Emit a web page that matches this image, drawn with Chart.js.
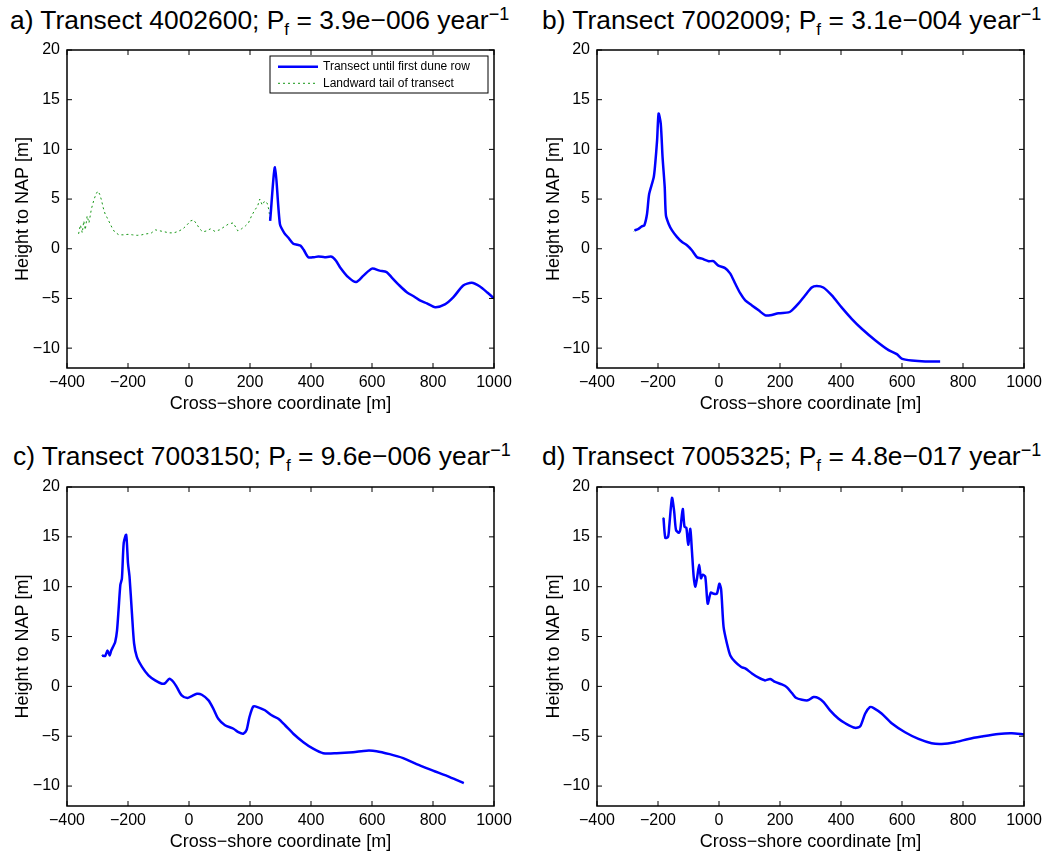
<!DOCTYPE html>
<html>
<head>
<meta charset="utf-8">
<script src="https://cdn.jsdelivr.net/npm/chart.js@4.4.1/dist/chart.umd.min.js"></script>
<style>
  body { margin: 0; background: #fff; width: 1051px; height: 858px; position: relative; overflow: hidden;
         font-family: "Liberation Sans", Arial, sans-serif; }
  .ttl { position: absolute; font-size: 26.4px; line-height: 26px; white-space: nowrap; color: #000; }
  .ttl .sub { font-size: 17px; position: relative; top: 6px; }
  .ttl .sup { font-size: 18px; position: relative; top: -9px; }
  canvas { position: absolute; }
</style>
</head>
<body>
<div class="ttl" style="left:10px;top:7px">a) Transect 4002600; P<span class="sub">f</span> = 3.9e−006 year<span class="sup">−1</span></div>
<div class="ttl" style="left:542px;top:7px">b) Transect 7002009; P<span class="sub">f</span> = 3.1e−004 year<span class="sup">−1</span></div>
<div class="ttl" style="left:13px;top:443px">c) Transect 7003150; P<span class="sub">f</span> = 9.6e−006 year<span class="sup">−1</span></div>
<div class="ttl" style="left:542px;top:443px">d) Transect 7005325; P<span class="sub">f</span> = 4.8e−017 year<span class="sup">−1</span></div>

<canvas id="chartA" width="525" height="386" style="left:0;top:30px"></canvas>
<canvas id="chartB" width="520" height="386" style="left:531px;top:30px"></canvas>
<canvas id="chartC" width="525" height="387" style="left:0;top:467px"></canvas>
<canvas id="chartD" width="520" height="387" style="left:531px;top:467px"></canvas>

<script>
const xTickValues = [-400, -200, 0, 200, 400, 600, 800, 1000];
const yTickValues = [-10, -5, 0, 5, 10, 15, 20];

// a) 4002600
const aDuneX = [266, 282, 298, 312, 326, 342, 356, 366, 376, 391, 410, 424, 445, 468, 482, 495, 522, 548, 572, 600, 625, 648, 665, 690, 714, 740, 757, 780, 807, 839, 867, 899, 927, 954, 978, 1000];
const aDuneY = [2.8, 8.2, 2.5, 1.6, 1.1, 0.5, 0.4, 0.3, -0.1, -0.85, -0.85, -0.78, -0.85, -0.8, -1.2, -1.85, -2.86, -3.35, -2.7, -2.0, -2.2, -2.35, -2.9, -3.7, -4.37, -4.85, -5.2, -5.5, -5.88, -5.6, -4.87, -3.7, -3.42, -3.8, -4.4, -5.0];
const aTailX = [-362, -356, -350, -345, -340, -334, -328, -320, -312, -305, -299, -293, -287, -281, -275, -268, -260, -252, -244, -230, -215, -200, -185, -170, -155, -140, -125, -110, -95, -80, -65, -50, -35, -20, -8, 5, 15, 25, 35, 45, 58, 70, 85, 100, 115, 130, 145, 160, 172, 185, 195, 205, 215, 225, 232, 240, 248, 256, 262, 266];
const aTailY = [1.5, 2.4, 1.6, 2.8, 1.9, 3.3, 2.6, 4.0, 4.9, 5.5, 5.8, 5.5, 4.9, 4.1, 3.5, 3.1, 2.6, 2.1, 1.7, 1.4, 1.4, 1.45, 1.4, 1.35, 1.4, 1.5, 1.55, 1.9, 1.8, 1.7, 1.6, 1.6, 1.75, 2.0, 2.35, 2.8, 2.9, 2.5, 2.0, 1.7, 1.8, 2.0, 1.75, 1.9, 2.2, 2.5, 2.6, 1.8, 2.0, 2.3, 2.6, 3.3, 3.85, 4.3, 5.0, 4.4, 4.8, 4.6, 3.9, 2.8];

// b) 7002009
const bDuneX = [-277, -264, -253, -245, -236, -229, -214, -209, -203, -198, -191, -185, -178, -174, -165, -154, -138, -122, -105, -89, -72, -56, -34, -18, -2, 20, 37, 53, 70, 86, 108, 130, 152, 168, 195, 228, 239, 261, 282, 304, 320, 342, 370, 402, 435, 468, 512, 556, 583, 599, 632, 676, 725];
const bDuneY = [1.85, 2.0, 2.25, 2.35, 3.5, 5.5, 7.2, 8.6, 10.9, 13.6, 12.6, 9.2, 6.2, 3.35, 2.5, 1.85, 1.2, 0.7, 0.35, -0.15, -0.85, -1.0, -1.25, -1.25, -1.7, -1.95, -2.5, -3.5, -4.5, -5.2, -5.7, -6.2, -6.7, -6.7, -6.5, -6.4, -6.2, -5.5, -4.7, -3.9, -3.75, -3.9, -4.7, -5.9, -7.05, -8.05, -9.2, -10.2, -10.6, -11.05, -11.25, -11.35, -11.35];
const bTailX = [-279, -276];
const bTailY = [1.75, 1.85];

// c) 7003150
const cDuneX = [-285, -275, -267, -260, -255, -247, -242, -236, -231, -225, -220, -214, -206, -200, -195, -187, -180, -171, -154, -133, -111, -89, -78, -64, -51, -40, -24, -5, 9, 26, 42, 64, 80, 96, 118, 146, 162, 178, 189, 198, 211, 227, 249, 271, 293, 315, 342, 375, 407, 440, 484, 538, 582, 615, 658, 702, 746, 800, 855, 901];
const cDuneY = [3.1, 3.05, 3.6, 3.1, 3.6, 4.1, 4.45, 5.6, 7.65, 10.2, 10.8, 14.4, 15.2, 12.35, 11.0, 7.3, 4.3, 2.95, 1.95, 1.1, 0.6, 0.27, 0.33, 0.77, 0.44, -0.07, -0.9, -1.17, -0.97, -0.74, -0.84, -1.4, -2.25, -3.25, -3.9, -4.25, -4.6, -4.75, -4.35, -3.1, -2.0, -2.1, -2.4, -2.9, -3.25, -3.9, -4.75, -5.6, -6.25, -6.7, -6.7, -6.6, -6.45, -6.5, -6.8, -7.2, -7.8, -8.45, -9.1, -9.7];
const cTailX = [-287, -284];
const cTailY = [3.1, 3.1];

// d) 7005325
const dDuneX = [-182, -176, -167, -163, -154, -147, -141, -132, -127, -119, -113, -107, -101, -94, -89, -83, -78, -72, -65, -59, -53, -45, -37, -27, -18, -7, 1, 7, 15, 26, 37, 53, 73, 86, 108, 130, 151, 168, 184, 206, 222, 239, 252, 272, 291, 310, 326, 343, 364, 392, 414, 446, 463, 479, 495, 506, 534, 566, 610, 654, 697, 730, 774, 818, 861, 916, 960, 1000];
const dDuneY = [16.9, 14.9, 15.0, 16.1, 18.9, 17.55, 15.7, 15.4, 15.7, 17.8, 16.0, 15.9, 14.2, 15.8, 13.7, 11.0, 10.0, 10.85, 12.2, 10.85, 11.2, 11.0, 8.3, 9.4, 9.3, 9.3, 10.3, 9.7, 5.97, 4.3, 3.1, 2.45, 1.95, 1.8, 1.3, 0.87, 0.6, 0.74, 0.44, 0.2, -0.07, -0.67, -1.14, -1.34, -1.4, -1.07, -1.17, -1.58, -2.4, -3.25, -3.7, -4.16, -4.0, -2.75, -2.08, -2.15, -2.75, -3.7, -4.6, -5.27, -5.7, -5.77, -5.6, -5.27, -5.03, -4.77, -4.7, -4.83];
const dTailX = [-184, -182];
const dTailY = [17.0, 16.9];

Chart.defaults.font.family = '"Liberation Sans", Arial, sans-serif';
Chart.defaults.color = "#000";

function toPoints(xs, ys) {
  return xs.map((x, i) => ({ x, y: ys[i] }));
}

function minusSign(value) {
  return String(value).replace("-", "\u2212");
}

function duneSet(xs, ys) {
  return {
    label: "Transect until first dune row",
    data: toPoints(xs, ys),
    borderColor: "#0000ff",
    borderWidth: 2.5,
    pointRadius: 0,
    tension: 0.25
  };
}

function tailSet(xs, ys) {
  return {
    label: "Landward tail of transect",
    data: toPoints(xs, ys),
    borderColor: "rgb(20,150,20)",
    borderWidth: 1,
    borderDash: [2, 3],
    pointRadius: 0,
    tension: 0
  };
}

// box round the axes with inward ticks on all four sides
const frame = {
  id: "frame",
  afterDatasetsDraw(chart) {
    const { ctx, chartArea: a, scales: { x, y } } = chart;
    ctx.save();
    ctx.strokeStyle = "#000";
    ctx.lineWidth = 1.5;
    ctx.strokeRect(a.left, a.top, a.right - a.left, a.bottom - a.top);
    ctx.lineWidth = 1;
    ctx.beginPath();
    x.ticks.forEach((t) => {
      const px = x.getPixelForValue(t.value);
      ctx.moveTo(px, a.bottom); ctx.lineTo(px, a.bottom - 5);
      ctx.moveTo(px, a.top); ctx.lineTo(px, a.top + 5);
    });
    y.ticks.forEach((t) => {
      const py = y.getPixelForValue(t.value);
      ctx.moveTo(a.left, py); ctx.lineTo(a.left + 5, py);
      ctx.moveTo(a.right, py); ctx.lineTo(a.right - 5, py);
    });
    ctx.stroke();
    ctx.restore();
  }
};

const legendBox = {
  id: "legendBox",
  afterDraw(chart) {
    const { ctx, chartArea: a } = chart;
    const w = 218, h = 37;
    const x0 = a.right - 6 - w, y0 = a.top + 6;
    ctx.save();
    ctx.fillStyle = "#fff";
    ctx.fillRect(x0, y0, w, h);
    ctx.strokeStyle = "#000";
    ctx.lineWidth = 1;
    ctx.strokeRect(x0, y0, w, h);
    ctx.font = '12px "Liberation Sans", Arial, sans-serif';
    ctx.textBaseline = "middle";
    chart.data.datasets.forEach((ds, i) => {
      const ly = y0 + 10.7 + i * 16.6;
      ctx.strokeStyle = ds.borderColor;
      ctx.lineWidth = ds.borderWidth;
      ctx.setLineDash(ds.borderDash || []);
      ctx.beginPath();
      ctx.moveTo(x0 + 8, ly);
      ctx.lineTo(x0 + 48, ly);
      ctx.stroke();
      ctx.setLineDash([]);
      ctx.fillStyle = "#000";
      ctx.fillText(ds.label, x0 + 53, ly);
    });
    ctx.restore();
  }
};

function makeChart(id, datasets, yWidth, rightPad, extra) {
  return new Chart(document.getElementById(id), {
    type: "line",
    data: { datasets },
    options: {
      responsive: false,
      animation: false,
      events: [],
      layout: { padding: { top: 20, right: rightPad, left: 0, bottom: 0 } },
      plugins: { legend: { display: false }, tooltip: { enabled: false } },
      scales: {
        x: {
          type: "linear",
          min: -400,
          max: 1000,
          afterBuildTicks(scale) { scale.ticks = xTickValues.map((v) => ({ value: v })); },
          afterFit(scale) { scale.height = 48; scale.paddingLeft = 0; scale.paddingRight = 0; },
          grid: { display: false, drawTicks: false },
          border: { display: false },
          ticks: { padding: 5, font: { size: 16 }, maxRotation: 0, autoSkip: false, callback: minusSign },
          title: { display: true, text: "Cross\u2212shore coordinate [m]", font: { size: 18 }, padding: { top: 0, bottom: 1 } }
        },
        y: {
          type: "linear",
          min: -12,
          max: 20,
          afterBuildTicks(scale) { scale.ticks = yTickValues.map((v) => ({ value: v })); },
          afterFit(scale) { scale.width = yWidth; scale.paddingTop = 0; scale.paddingBottom = 0; },
          grid: { display: false, drawTicks: false },
          border: { display: false },
          ticks: { padding: 7, font: { size: 16 }, autoSkip: false, callback: minusSign },
          title: { display: true, text: "Height to NAP [m]", font: { size: 18 }, padding: { top: 12.5, bottom: 0 } }
        }
      }
    },
    plugins: [frame].concat(extra || [])
  });
}

makeChart("chartA", [duneSet(aDuneX, aDuneY), tailSet(aTailX, aTailY)], 67, 31, [legendBox]);
makeChart("chartB", [duneSet(bDuneX, bDuneY), tailSet(bTailX, bTailY)], 66, 27);
makeChart("chartC", [duneSet(cDuneX, cDuneY), tailSet(cTailX, cTailY)], 67, 31);
makeChart("chartD", [duneSet(dDuneX, dDuneY), tailSet(dTailX, dTailY)], 66, 27);
</script>
</body>
</html>
